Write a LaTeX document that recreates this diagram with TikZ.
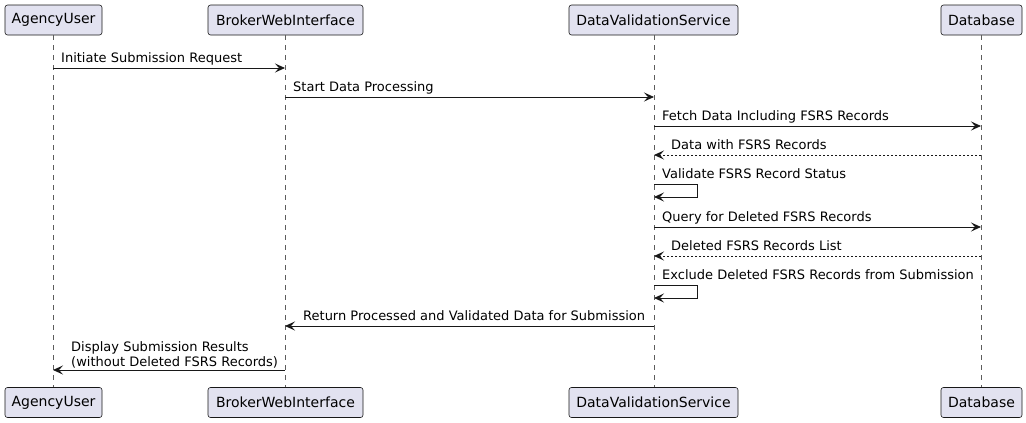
\documentclass[tikz,border=0pt]{standalone}
\usepackage{fontspec}
\setmainfont{DejaVu Sans}
\usetikzlibrary{arrows.meta}
\definecolor{pfill}{HTML}{E2E2F0}
\definecolor{pline}{HTML}{181818}
\begin{document}
\begin{tikzpicture}[x=1pt,y=-1pt,
  part/.style={draw=pline,fill=pfill,rounded corners=2.5pt,line width=0.6pt,minimum height=30pt,inner sep=0pt,font=\fontsize{14}{16}\selectfont,text=black},
  life/.style={draw=pline!70,line width=0.5pt,dash pattern=on 5pt off 5pt},
  msg/.style={draw=pline,line width=0.9pt,-{Stealth[length=10pt,width=9pt,inset=4pt]}},
  ret/.style={msg,dash pattern=on 2pt off 2pt},
  lbl/.style={anchor=base west,inner sep=0pt,font=\fontsize{13}{15}\selectfont,text=black,align=left}]
\useasboundingbox (0,0) rectangle (1026,423);
% participants
\node[part,minimum width=97pt] (au) at (53.5,20) {AgencyUser};
\node[part,minimum width=155pt] (bw) at (285.5,20) {BrokerWebInterface};
\node[part,minimum width=169pt] (dv) at (653.5,20) {DataValidationService};
\node[part,minimum width=81pt] (db) at (981.5,20) {Database};
\node[part,minimum width=97pt] (au2) at (53.5,402.5) {AgencyUser};
\node[part,minimum width=155pt] (bw2) at (285.5,402.5) {BrokerWebInterface};
\node[part,minimum width=169pt] (dv2) at (653.5,402.5) {DataValidationService};
\node[part,minimum width=81pt] (db2) at (981.5,402.5) {Database};
% lifelines
\draw[life] (53,35) -- (53,387);
\draw[life] (285,35) -- (285,387);
\draw[life] (654,35) -- (654,387);
\draw[life] (981,35) -- (981,387);
% message coordinates
\coordinate (m1a) at (53,68);   \coordinate (m1b) at (285,68);
\coordinate (m2a) at (285,97);  \coordinate (m2b) at (654,97);
\coordinate (m3a) at (654,126); \coordinate (m3b) at (981,126);
\coordinate (m4a) at (981,155); \coordinate (m4b) at (654,155);
\coordinate (m5a) at (654,184); \coordinate (m5b) at (654,197);
\coordinate (m6a) at (654,227); \coordinate (m6b) at (981,227);
\coordinate (m7a) at (981,256); \coordinate (m7b) at (654,256);
\coordinate (m8a) at (654,285); \coordinate (m8b) at (654,298);
\coordinate (m9a) at (654,326); \coordinate (m9b) at (285,326);
\coordinate (m10a) at (285,370); \coordinate (m10b) at (53,370);
% messages
\draw[msg] (m1a) -- (m1b);
\node[lbl] (t1) at (61,62) {Initiate Submission Request};
\draw[msg] (m2a) -- (m2b);
\node[lbl] (t2) at (293,91) {Start Data Processing};
\draw[msg] (m3a) -- (m3b);
\node[lbl] (t3) at (662,120) {Fetch Data Including FSRS Records};
\draw[ret] (m4a) -- (m4b);
\node[lbl] (t4) at (671,149.5) {Data with FSRS Records};
\draw[msg] (m5a) -- ++(43,0) |- (m5b);
\node[lbl] (t5) at (662,178.5) {Validate FSRS Record Status};
\draw[msg] (m6a) -- (m6b);
\node[lbl] (t6) at (662,221) {Query for Deleted FSRS Records};
\draw[ret] (m7a) -- (m7b);
\node[lbl] (t7) at (671,250.5) {Deleted FSRS Records List};
\draw[msg] (m8a) -- ++(43,0) |- (m8b);
\node[lbl] (t8) at (662,279.5) {Exclude Deleted FSRS Records from Submission};
\draw[msg] (m9a) -- (m9b);
\node[lbl] (t9) at (303,320.5) {Return Processed and Validated Data for Submission};
\draw[msg] (m10a) -- (m10b);
\node[lbl,anchor=south west,yshift=-3.5pt] (t10) at (71,364.5) {Display Submission Results\\(without Deleted FSRS Records)};
\end{tikzpicture}
\end{document}
